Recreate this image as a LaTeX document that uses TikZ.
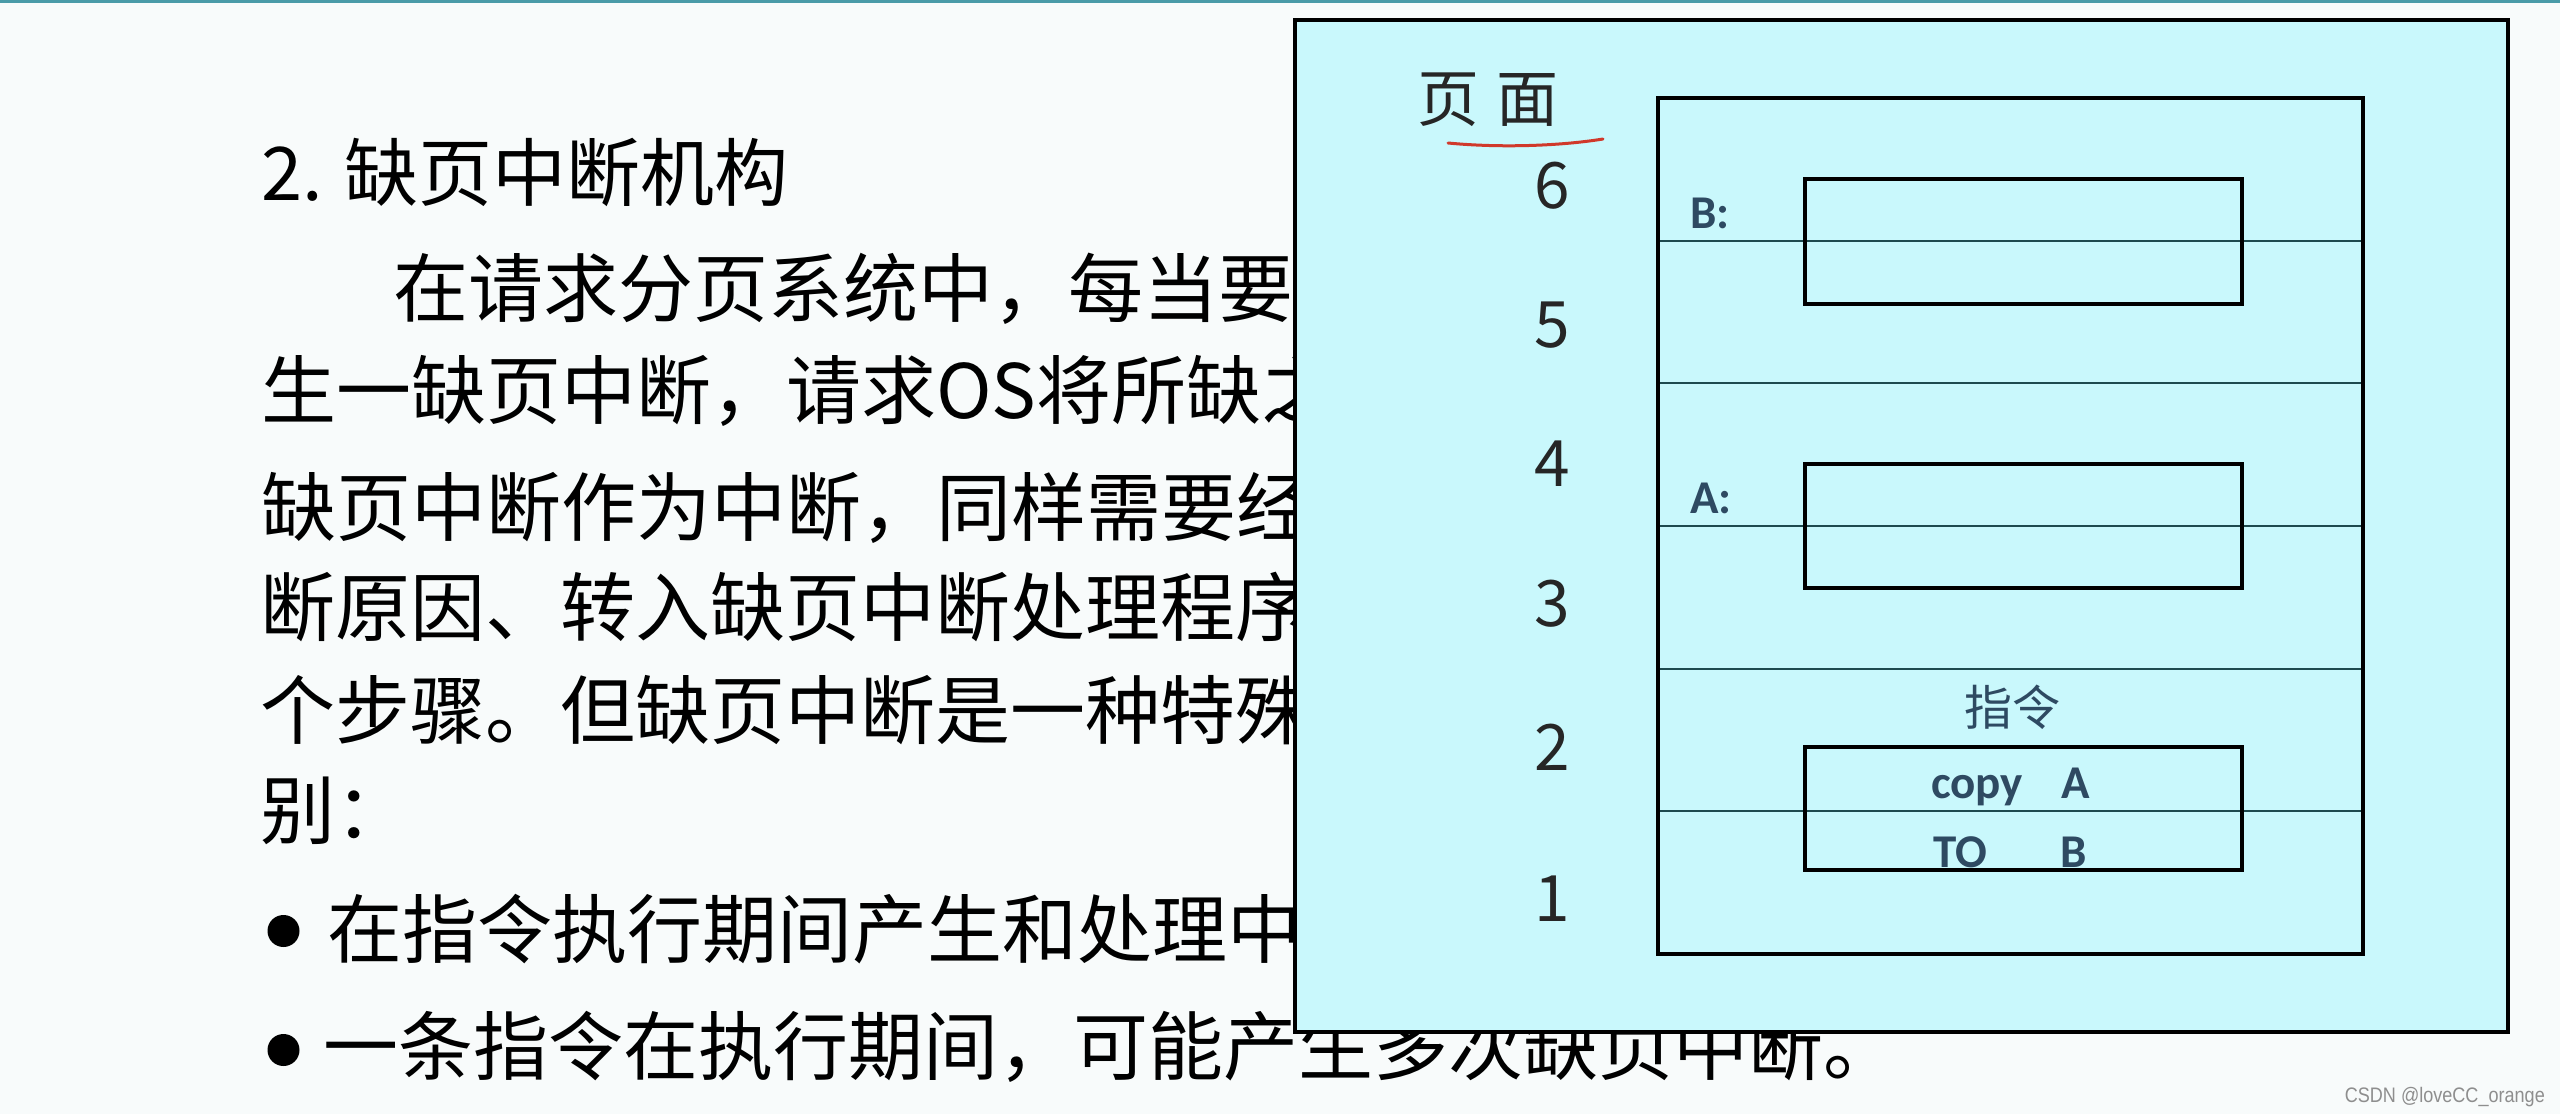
\documentclass[tikz,border=0pt]{standalone}
\usepackage{fontspec}
\newfontfamily\cjk{Noto Sans CJK SC}
\newfontfamily\carlito{Carlito}
\newfontfamily\libsans{Liberation Sans}
\definecolor{bgc}{HTML}{F8FBFB}
\definecolor{topc}{HTML}{4A9BA8}
\definecolor{boxc}{HTML}{C9F8FC}
\definecolor{linec}{HTML}{1E4A4E}
\definecolor{labc}{HTML}{2E4A62}
\definecolor{redc}{HTML}{D0392B}
\definecolor{wmc}{HTML}{8E8E8E}
\tikzset{
  bodytext/.style={anchor=base west, inner sep=0pt, text=black, font=\cjk\fontsize{75}{75}\selectfont},
  titletext/.style={anchor=base west, inner sep=0pt, text=black, font=\cjk\fontsize{74}{74}\selectfont},
  digit/.style={anchor=center, inner sep=0pt, text=black!85, font=\cjk\fontsize{64}{64}\selectfont},
  lab/.style={anchor=base west, inner sep=0pt, text=labc, font=\carlito\bfseries\fontsize{47}{47}\selectfont},
  hand/.style={anchor=center, inner sep=0pt, text=black!85, font=\cjk\fontsize{62}{62}\selectfont},
  bigbox/.style={draw=black, fill=boxc, line width=4pt},
  memframe/.style={draw=black, line width=4pt},
  smallbox/.style={draw=black, line width=4pt},
  thinline/.style={draw=linec, line width=2pt},
  bulletdot/.style={fill=black}
}
\begin{document}
\begin{tikzpicture}[x=1pt,y=-1pt]
\useasboundingbox (0,0) rectangle (2560,1114);
\fill[bgc] (0,0) rectangle (2560,1114);
\fill[topc] (0,0) rectangle (2560,3);
% left text
\node[titletext] (t1) at (261,200) {2. 缺页中断机构};
\node[bodytext] (t2) at (393,316) {在请求分页系统中，每当要};
\node[bodytext] (t3) at (261,418) {生一缺页中断，请求OS将所缺之};
\node[bodytext] (t4) at (261,535) {缺页中断作为中断，同样需要经};
\node[bodytext] (t5) at (260,635) {断原因、转入缺页中断处理程序};
\node[bodytext] (t6) at (260,738) {个步骤。但缺页中断是一种特殊};
\node[bodytext] (t7) at (260,838) {别：};
\fill[bulletdot] (283.5,931) circle (16);
\node[bodytext] (t8) at (327,957) {在指令执行期间产生和处理中};
\fill[bulletdot] (283.5,1050) circle (16);
\node[bodytext] (t9) at (323,1074) {一条指令在执行期间，可能产生多次缺页中断。};
% picture box
\draw[bigbox] (1295,20) rectangle (2508,1032);
\foreach \yy in {240.7,383.3,526,668.7,811.3}{
  \draw[thinline] (1658,\yy) -- (2363,\yy);
}
\draw[memframe] (1658,98) rectangle (2363,954);
\draw[smallbox] (1805,179) rectangle (2242,304);
\draw[smallbox] (1805,464) rectangle (2242,588);
\draw[smallbox] (1805,747) rectangle (2242,870);
% page numbers
\node[digit] (d6) at (1552,186) {6};
\node[digit] (d5) at (1552,325) {5};
\node[digit] (d4) at (1552,464) {4};
\node[digit] (d3) at (1552,604) {3};
\node[digit] (d2) at (1552,747) {2};
\node[digit] (d1) at (1552,899) {1};
% header
\node[hand] (h1) at (1448,100) {页};
\node[hand] (h2) at (1527,100) {面};
\draw[redc, line width=3pt, line cap=round] (1448,143) .. controls (1500,148) and (1560,146) .. (1603,139);
% labels
\node[lab] (lb) at (1690,228) {B:};
\node[lab] (la) at (1690,513) {A:};
\node[anchor=center, inner sep=0pt, text=labc, font=\cjk\fontsize{48}{48}\selectfont] (instr) at (2012,707) {指令};
\node[lab] (c1) at (1931,798) {copy};
\node[lab] (c2) at (2061,798) {A};
\node[lab] (c3) at (1933,867) {TO};
\node[lab] (c4) at (2060,867) {B};
% watermark
\node[anchor=base east, inner sep=0pt, text=wmc, font=\libsans\fontsize{21}{21}\selectfont, xscale=0.86] (wm) at (2545,1102) {CSDN @loveCC\_orange};
\end{tikzpicture}
\end{document}
